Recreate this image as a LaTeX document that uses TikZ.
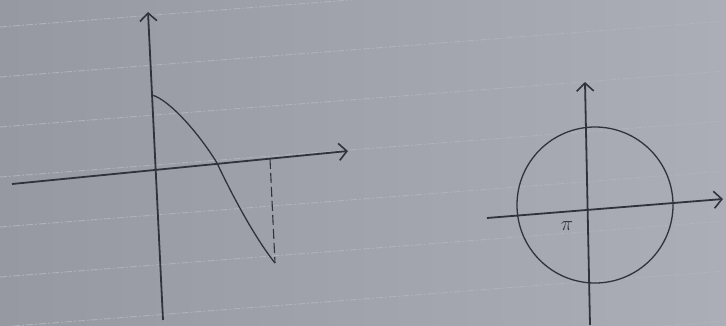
\documentclass[tikz,border=0pt]{standalone}
\usetikzlibrary{arrows.meta}
\definecolor{paperA}{RGB}{150,152,162}
\definecolor{paperB}{RGB}{172,174,183}
\definecolor{ruleline}{RGB}{176,178,188}
\definecolor{pencil}{RGB}{48,50,60}
\tikzset{
  axis/.style={draw=pencil,line width=1.8pt,-{Straight Barb[length=8pt,width=17pt,line width=1.6pt]}},
  sketch/.style={draw=pencil,line width=1.3pt},
  paperline/.style={draw=ruleline,line width=0.9pt,dash pattern=on 7pt off 2pt on 2pt off 2pt}
}
\begin{document}
\begin{tikzpicture}[x=1pt,y=-1pt]
\useasboundingbox (0,0) rectangle (726,325);
\shade[left color=paperA,right color=paperB] (0,0) rectangle (726,325);
\clip (0,0) rectangle (726,325);
% ruled paper lines
\foreach \k in {-1,...,7}{
  \draw[paperline] (0,{27+50*\k}) -- (726,{27+50*\k-56});
}
% left graph
\coordinate (lyb) at (163,320);
\coordinate (lyt) at (148,12);
\coordinate (lxl) at (12,184);
\coordinate (lxr) at (348,151);
\draw[axis] (lyb) -- (lyt);
\draw[axis] (lxl) -- (lxr);
\coordinate (c0) at (152,95);
\coordinate (c1) at (217,163);
\coordinate (c2) at (275,263);
\draw[sketch] (c0) .. controls (170,100) and (200,135) .. (c1)
                   .. controls (232,195) and (255,238) .. (c2);
\coordinate (dtop) at (270,159);
\draw[draw=pencil,line width=1.1pt,dash pattern=on 10pt off 4pt] (dtop) -- (c2);
% right graph
\coordinate (ryb) at (590,325);
\coordinate (ryt) at (585,82);
\coordinate (rxl) at (487,218);
\coordinate (rxr) at (723,199);
\draw[axis] (ryb) -- (ryt);
\draw[axis] (rxl) -- (rxr);
\coordinate (cc) at (595,205);
\draw[sketch] (cc) circle[radius=78];
\node[text=pencil,font=\fontsize{20}{20}\selectfont] (pi) at (567,226) {$\pi$};
\end{tikzpicture}
\end{document}
